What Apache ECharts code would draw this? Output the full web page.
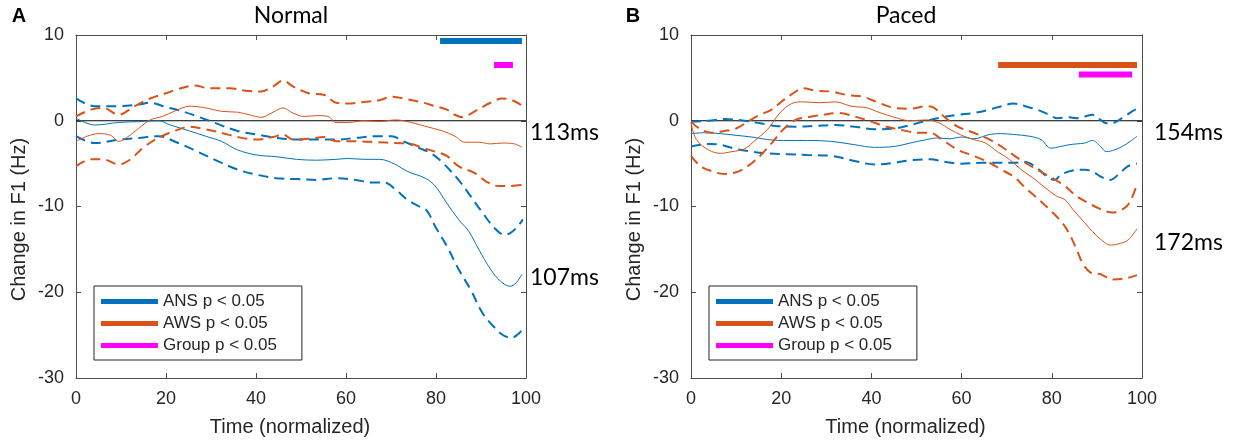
<!DOCTYPE html>
<html>
<head>
<meta charset="utf-8">
<script src="https://cdn.jsdelivr.net/npm/echarts@6/dist/echarts.min.js"></script>
<style>
html,body{margin:0;padding:0;background:#fff;}
#chart{width:1238px;height:445px;}
</style>
</head>
<body>
<div id="chart"></div>
<script>
// ---- Data (x = normalized time, y = change in F1, Hz) ----
var xTicks = [0, 20, 40, 60, 80, 100];
var yTicks = [-30, -20, -10, 0, 10];
var panelTitles = ['Normal', 'Paced'];
var panelLetters = ['A', 'B'];
var legendNames = ['ANS p < 0.05', 'AWS p < 0.05', 'Group p < 0.05'];
var latencyLabelsNormal = ['113ms', '107ms'];
var latencyLabelsPaced = ['154ms', '172ms'];
var zeroRef = [[0, 0], [100, 0]];

// Normal panel
var ansMeanN = [[0,0.3],[4.2,-0.5],[9.5,-0.2],[13.9,-0.1],[18.3,0],[21,-0.5],[25.3,-1.2],[28.8,-1.8],[32.3,-2.4],[35.9,-3.4],[40.2,-4.0],[44.6,-4.2],[49,-4.5],[53.4,-4.6],[57.8,-4.5],[60.5,-4.4],[64,-4.5],[67.5,-4.5],[71,-5.1],[73.6,-5.9],[77.6,-6.7],[79.8,-7.6],[82.4,-9.6],[85,-11.5],[87.3,-12.9],[89.5,-15],[92.1,-17.3],[94.3,-18.7],[96.5,-19.3],[97.8,-18.9],[99.1,-17.9]];
var ansUpperN = [[0,2.6],[4.2,1.7],[9.5,1.7],[13.9,1.9],[16.5,2.1],[20,1.6],[23.6,1.1],[27,0.5],[30.6,-0.2],[35.9,-1.2],[40.2,-1.6],[44.6,-2.0],[49,-2.2],[53.4,-2.2],[57.8,-2.2],[62.2,-2.0],[66.6,-1.8],[70.1,-1.8],[72.8,-2.4],[76.3,-3.2],[78.9,-3.8],[81.5,-4.9],[85,-6.9],[87.7,-8.8],[90.3,-10.7],[93,-12.5],[95.2,-13.3],[96.5,-13.1],[98.2,-12.3],[99.3,-11.5]];
var ansLowerN = [[0,-1.8],[4.2,-2.6],[9.5,-2.2],[13.9,-2.0],[18.3,-1.8],[22.7,-2.6],[27,-3.6],[31.5,-4.7],[35.9,-5.7],[40.2,-6.3],[44.6,-6.7],[49,-6.8],[53.4,-6.9],[57.8,-6.7],[62.2,-6.9],[65.7,-7.2],[68.4,-7.2],[71,-8.0],[73.6,-9.2],[76.3,-10.0],[78,-10.5],[79.8,-12.3],[82.4,-14.6],[85,-17.3],[87.7,-19.7],[90.3,-22.4],[93,-24.1],[95.2,-25.1],[96.9,-25.3],[98.2,-24.9],[99.3,-24.3]];
var awsMeanN = [[0,-2.4],[2.5,-1.8],[5.1,-1.5],[7.7,-1.7],[9.5,-2.4],[11.2,-2.0],[13.9,-0.9],[16.5,0.1],[19.2,0.5],[21.8,1.1],[25.3,1.7],[28.8,1.5],[32.3,1.1],[35.9,1.0],[38.5,0.7],[41.1,0.4],[43.8,1.0],[46,1.5],[48.2,0.9],[50.7,0.5],[53.4,0.6],[56,0.5],[57.8,-0.2],[60.5,-0.2],[64,0],[67.5,-0.1],[71,0.1],[74.5,-0.2],[78,-0.7],[81.5,-1.2],[84.2,-1.8],[86.4,-2.5],[89.5,-2.5],[92.1,-2.7],[94.7,-2.6],[97.4,-2.7],[99.1,-3.1]];
var awsUpperN = [[0,0.5],[3.3,1.3],[6,1.5],[9.5,0.7],[13,1.7],[16.5,2.6],[20,3.2],[22.7,3.7],[26.2,4.1],[29.7,3.8],[34.1,3.8],[37.6,3.5],[41.1,3.4],[43.8,4.0],[46,4.7],[48.2,4.0],[51.7,3.2],[55.2,3.0],[57.8,2.1],[60.5,2.0],[64,2.2],[67.5,2.4],[70.1,2.8],[73.6,2.5],[77.2,2.1],[79.8,1.7],[82.4,1.3],[84.2,0.7],[85.9,0.4],[88.6,1.1],[92.1,2.1],[94.7,2.6],[96.9,2.4],[98.7,1.9],[99.3,1.6]];
var awsLowerN = [[0,-5.3],[3.3,-4.5],[6,-4.5],[9.5,-5.1],[12.1,-4.5],[14.8,-3.2],[18.3,-2.0],[21.8,-1.2],[25.3,-0.7],[28.8,-1.0],[32.3,-1.4],[35.9,-1.9],[40.2,-2.2],[43.8,-1.9],[46,-1.6],[48.2,-2.2],[51.7,-2.1],[55.2,-1.9],[57.8,-2.4],[62.2,-2.4],[66.6,-2.5],[71,-2.6],[74.5,-2.7],[77.2,-3.2],[79.8,-3.6],[82.4,-4.1],[85,-5.3],[88.6,-6.1],[91.2,-7.1],[93.8,-7.6],[96.5,-7.6],[99.1,-7.5]];
var ansSigN = [[80.9,9.3],[99.1,9.3]];
var groupSigN = [[92.9,6.5],[97.1,6.5]];

// Paced panel
var ansMeanP = [[0,-1.5],[3,-1.4],[6.5,-1.5],[10,-1.7],[13.5,-1.9],[17,-2.2],[20.5,-2.3],[25.8,-2.3],[31.1,-2.4],[36.3,-2.8],[40.7,-3.1],[45.1,-3.0],[48.6,-2.6],[52.2,-2.2],[54.8,-2.0],[57.4,-2.1],[60,-1.9],[62.7,-2.1],[66.2,-1.6],[68.8,-1.5],[71.5,-1.6],[75,-1.8],[77.6,-2.2],[79.8,-3.2],[82,-3.0],[83.8,-2.8],[85.5,-2.7],[87.3,-2.6],[89,-2.3],[90.8,-3.0],[92.1,-3.6],[93.9,-3.4],[95.6,-3.0],[97.4,-2.4],[98.9,-1.8]];
var ansUpperP = [[0,-0.1],[3.9,0],[7.4,0.2],[11.8,0],[15.3,-0.3],[18.8,-0.6],[23.2,-0.7],[27.6,-0.6],[32,-0.5],[36.3,-0.7],[40.7,-1.0],[45.1,-0.9],[48.6,-0.5],[52.2,0],[55.7,0.4],[59.2,0.7],[62.7,0.9],[66.2,1.3],[68.8,1.7],[71.5,2.0],[74.1,1.7],[76.7,1.3],[79.4,0.7],[81.1,0.3],[83.8,0.4],[85.5,0.3],[87.3,0.5],[89,0.7],[90.8,0.1],[92.1,-0.3],[93.9,-0.2],[96.1,0.5],[97.8,1.1],[98.9,1.4]];
var ansLowerP = [[0,-3.0],[3.9,-2.7],[6.5,-2.8],[10,-3.3],[13.5,-3.6],[17,-3.8],[21.4,-3.9],[25.8,-4.0],[31.1,-4.1],[36.3,-4.7],[40.7,-5.1],[45.1,-4.9],[48.6,-4.6],[53,-4.5],[56.5,-4.8],[60,-5.0],[64.4,-4.9],[67.9,-4.9],[71.5,-4.9],[74.1,-4.8],[76.7,-5.5],[78.9,-6.5],[80.7,-6.9],[82,-6.3],[84.6,-5.8],[87.3,-5.7],[89,-5.9],[90.8,-6.5],[93,-6.9],[94.7,-6.3],[96.9,-5.3],[98.9,-5.0]];
var awsMeanP = [[0,-0.2],[1.2,-2.2],[3.9,-3.4],[6.5,-3.8],[9.1,-3.6],[11.8,-3.3],[14.4,-2.2],[17,-1.0],[19.7,0.9],[22.3,2.0],[24.9,2.2],[28.4,2.1],[32,2.2],[35.5,1.7],[39,1.5],[41.6,1.0],[45.1,0.4],[48.6,0],[52.2,0.1],[54.8,-0.2],[57.4,-1.0],[60,-1.7],[62.7,-2.2],[65.3,-2.6],[67.9,-3.6],[70.6,-4.5],[73.2,-5.7],[75.9,-6.7],[78.5,-7.8],[81.1,-8.8],[82.9,-9.2],[84.6,-10.3],[87.3,-11.9],[89,-12.9],[90.8,-13.8],[93,-14.5],[95.2,-14.3],[96.9,-13.9],[98.9,-12.6]];
var awsUpperP = [[0,-0.1],[2.1,-1.0],[4.7,-1.4],[7.4,-1.2],[10,-0.9],[12.6,-0.1],[15.3,0.7],[17.9,1.3],[20.5,2.4],[23.2,3.4],[24.9,3.8],[27.6,3.5],[31.1,3.4],[34.6,3.0],[38.1,2.8],[41.6,2.1],[45.1,1.5],[48.6,1.4],[52.2,1.7],[53.9,1.5],[56.5,0.3],[59.2,-0.7],[62.7,-1.4],[66.2,-2.2],[68.8,-3.0],[71.5,-4.0],[74.1,-4.9],[76.7,-5.7],[80.2,-6.7],[82.9,-7.6],[85.5,-8.8],[88.1,-9.6],[90.8,-10.3],[93.4,-10.7],[96.1,-10.2],[97.4,-9.4],[98.9,-7.4]];
var awsLowerP = [[0,-4.1],[2.1,-5.3],[4.7,-5.9],[7.4,-6.2],[10,-6.0],[12.6,-5.3],[15.3,-4.1],[17.9,-2.6],[20.5,-1.0],[23.2,0.1],[25.8,0.4],[29.3,0.7],[32.8,0.9],[36.3,0.5],[39.9,-0.1],[43.4,-0.7],[46.9,-1.1],[50.4,-1.4],[53,-1.4],[55.7,-2.2],[59.2,-3.4],[62.7,-4.1],[66.2,-4.9],[68.8,-5.7],[71.5,-6.5],[74.1,-7.8],[76.7,-9.0],[79.4,-10.3],[82,-11.7],[83.8,-13.1],[85.5,-15.0],[86.8,-16.6],[88.6,-17.7],[90.8,-17.9],[93.4,-18.5],[96.1,-18.4],[98.9,-18.0]];
var awsSigP = [[68.1,6.5],[98.9,6.5]];
var groupSigP = [[86,5.4],[97.8,5.4]];

// ---- Styling ----
var BLUE = '#0072BD', ORANGE = '#D95319', MAGENTA = '#FF00FF';
var AXIS = '#4d4d4d', TEXT = '#262626';
var FONT = 'Liberation Sans, Arial, sans-serif';
var CAL = 'Lato, Carlito, sans-serif';

var grids = [
  {left: 76, top: 35, width: 450, height: 343},
  {left: 691, top: 35, width: 451, height: 343}
];

function axisCommon() {
  return {
    axisLine: {show: true, onZero: false, lineStyle: {color: AXIS, width: 1}},
    axisTick: {show: true, inside: true, length: 5, lineStyle: {color: AXIS}},
    splitLine: {show: false}
  };
}
function xAxes(g) {
  return [Object.assign(axisCommon(), {
    gridIndex: g, type: 'value', min: 0, max: 100, interval: 20, position: 'bottom',
    axisLabel: {fontSize: 18, color: TEXT, margin: 12, fontFamily: FONT},
    name: 'Time (normalized)', nameLocation: 'middle', nameGap: 39,
    nameTextStyle: {fontSize: 20, color: TEXT, fontFamily: FONT, padding: [0, 22, 0, 0]}
  }), Object.assign(axisCommon(), {
    gridIndex: g, type: 'value', min: 0, max: 100, interval: 20, position: 'top',
    axisLabel: {show: false}
  })];
}
function yAxes(g) {
  return [Object.assign(axisCommon(), {
    gridIndex: g, type: 'value', min: -30, max: 10, interval: 10, position: 'left',
    axisLabel: {fontSize: 18, color: TEXT, margin: 12, fontFamily: FONT},
    name: 'Change in F1 (Hz)', nameLocation: 'middle', nameGap: 47,
    nameTextStyle: {fontSize: 20, color: TEXT, fontFamily: FONT, padding: [0, 26, 0, 0]}
  }), Object.assign(axisCommon(), {
    gridIndex: g, type: 'value', min: -30, max: 10, interval: 10, position: 'right',
    axisLabel: {show: false}
  })];
}

function curve(name, data, color, dashed, g) {
  return {
    name: name, type: 'line', xAxisIndex: g * 2, yAxisIndex: g * 2,
    data: data, smooth: 0.35, showSymbol: false, symbol: 'none', silent: true,
    itemStyle: {color: color},
    lineStyle: dashed ? {color: color, width: 2, type: [10, 6]} : {color: color, width: 1},
    z: 3
  };
}
function sigBar(name, data, color, g) {
  return {
    name: name, type: 'line', xAxisIndex: g * 2, yAxisIndex: g * 2,
    data: data, showSymbol: false, symbol: 'none', silent: true,
    itemStyle: {color: color},
    lineStyle: {color: color, width: 6, cap: 'butt'},
    z: 5
  };
}
function zeroLine(g) {
  return {
    name: 'zero' + g, type: 'line', xAxisIndex: g * 2, yAxisIndex: g * 2,
    data: zeroRef, showSymbol: false, symbol: 'none', silent: true,
    itemStyle: {color: '#000'},
    lineStyle: {color: '#000', width: 1},
    z: 2
  };
}

var series = [
  zeroLine(0),
  curve('ANS mean N', ansMeanN, BLUE, false, 0),
  curve('ANS upper N', ansUpperN, BLUE, true, 0),
  curve('ANS lower N', ansLowerN, BLUE, true, 0),
  curve('AWS mean N', awsMeanN, ORANGE, false, 0),
  curve('AWS upper N', awsUpperN, ORANGE, true, 0),
  curve('AWS lower N', awsLowerN, ORANGE, true, 0),
  sigBar(legendNames[0], ansSigN, BLUE, 0),
  sigBar(legendNames[2], groupSigN, MAGENTA, 0),
  zeroLine(1),
  curve('ANS mean P', ansMeanP, BLUE, false, 1),
  curve('ANS upper P', ansUpperP, BLUE, true, 1),
  curve('ANS lower P', ansLowerP, BLUE, true, 1),
  curve('AWS mean P', awsMeanP, ORANGE, false, 1),
  curve('AWS upper P', awsUpperP, ORANGE, true, 1),
  curve('AWS lower P', awsLowerP, ORANGE, true, 1),
  sigBar(legendNames[1], awsSigP, ORANGE, 1),
  sigBar(legendNames[2], groupSigP, MAGENTA, 1)
];

function legend(left) {
  return {
    data: legendNames, orient: 'vertical', left: left, top: 286,
    icon: 'rect', itemWidth: 57, itemHeight: 5, itemGap: 5,
    selectedMode: false,
    padding: [7, 25, 6, 7],
    borderColor: '#262626', borderWidth: 1, backgroundColor: '#fff',
    textStyle: {fontSize: 17, color: TEXT, fontFamily: FONT}
  };
}

function txt(text, left, centerY, size, family, bold) {
  return {
    text: text, left: left, top: centerY - size / 2, padding: 0,
    textStyle: {fontSize: size, fontFamily: family, color: '#000', fontWeight: bold ? 'bold' : 'normal', lineHeight: size}
  };
}
function ctxt(text, cx, centerY, size, family, bold) {
  var t = txt(text, cx, centerY, size, family, bold);
  t.textAlign = 'center';
  return t;
}

var option = {
  animation: false,
  backgroundColor: '#fff',
  textStyle: {fontFamily: FONT},
  title: [
    ctxt(panelLetters[0], 19, 16, 20, FONT, true),
    ctxt(panelTitles[0], 291, 16, 23, CAL, false),
    ctxt(panelLetters[1], 633, 16, 20, FONT, true),
    ctxt(panelTitles[1], 906, 16, 23, CAL, false),
    txt(latencyLabelsNormal[0], 530, 133, 23, CAL, false),
    txt(latencyLabelsNormal[1], 530, 278, 23, CAL, false),
    txt(latencyLabelsPaced[0], 1154, 133, 23, CAL, false),
    txt(latencyLabelsPaced[1], 1154, 243, 23, CAL, false)
  ],
  grid: grids,
  xAxis: xAxes(0).concat(xAxes(1)),
  yAxis: yAxes(0).concat(yAxes(1)),
  legend: [legend(94), legend(709)],
  series: series
};

var chart = echarts.init(document.getElementById('chart'), null, {renderer: 'canvas'});
chart.setOption(option);
</script>
</body>
</html>
